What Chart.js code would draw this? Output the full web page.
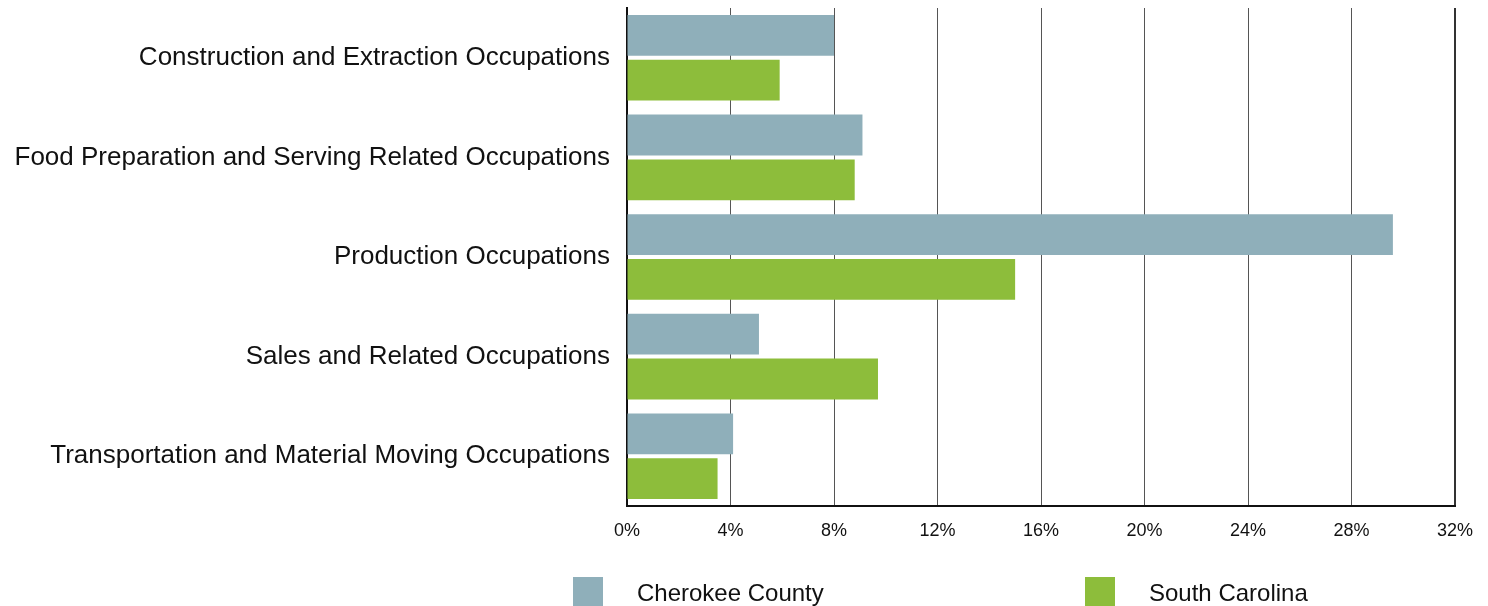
<!DOCTYPE html>
<html>
<head>
<meta charset="utf-8">
<script src="https://cdn.jsdelivr.net/npm/chart.js@4.4.1/dist/chart.umd.min.js"></script>
<style>
  body { margin: 0; background: #fff; font-family: "Liberation Sans", Arial, sans-serif; }
  #wrap { position: relative; width: 1488px; height: 606px; }
  canvas { display: block; }
  .legend-box { position: absolute; width: 30px; height: 29px; top: 577px; }
  .legend-text { position: absolute; top: 578px; font-size: 24px; color: #111; line-height: 29px; }
</style>
</head>
<body>
<div id="wrap">
  <canvas id="myChart" width="1488" height="606"></canvas>
  <div class="legend-box" style="left:573px;background:#8fafba"></div>
  <div class="legend-text" style="left:637px">Cherokee County</div>
  <div class="legend-box" style="left:1085px;background:#8dbd3b"></div>
  <div class="legend-text" style="left:1149px">South Carolina</div>
</div>
<script>
/* chart data */
var categories = [
  'Construction and Extraction Occupations',
  'Food Preparation and Serving Related Occupations',
  'Production Occupations',
  'Sales and Related Occupations',
  'Transportation and Material Moving Occupations'
];
var cherokeeValues = [8.0, 9.1, 29.6, 5.1, 4.1];
var southCarolinaValues = [5.9, 8.8, 15.0, 9.7, 3.5];
var tickValues = [0, 4, 8, 12, 16, 20, 24, 28, 32];

var config = {
  type: 'bar',
  data: {
    labels: categories,
    datasets: [{
      label: 'Cherokee County',
      data: cherokeeValues,
      backgroundColor: '#8fafba',
      categoryPercentage: 0.9,
      barPercentage: 0.91
    }, {
      label: 'South Carolina',
      data: southCarolinaValues,
      backgroundColor: '#8dbd3b',
      categoryPercentage: 0.9,
      barPercentage: 0.91
    }]
  },
  options: {
    indexAxis: 'y',
    responsive: false,
    animation: false,
    layout: { padding: { top: 8, right: 33, bottom: 0, left: 0 } },
    plugins: {
      legend: { display: false },
      tooltip: { enabled: false }
    },
    scales: {
      x: {
        min: 0,
        max: 32,
        afterBuildTicks: function(scale) {
          scale.ticks = tickValues.map(function(v) { return { value: v }; });
        },
        afterFit: function(scale) { scale.height = 100; },
        grid: {
          drawTicks: false,
          color: function(ctx) { return ctx.index === tickValues.length - 1 ? '#333' : '#555'; },
          lineWidth: function(ctx) { return ctx.index === tickValues.length - 1 ? 2 : 1; }
        },
        border: { color: '#111', width: 2 },
        ticks: {
          padding: 14,
          color: '#111',
          font: { family: 'Liberation Sans', size: 18 },
          callback: function(v) { return v + '%'; }
        }
      },
      y: {
        afterFit: function(scale) {
          scale.width = 627;
          scale.paddingTop = 0;
          scale.paddingBottom = 0;
        },
        grid: { display: false },
        border: { color: '#111', width: 2 },
        ticks: {
          padding: 9,
          color: '#111',
          font: { family: 'Liberation Sans', size: 26 }
        }
      }
    }
  }
};

window.onload = function() {
  var ctx = document.getElementById('myChart').getContext('2d');
  window.barChart = new Chart(ctx, config);
};
</script>
</body>
</html>
